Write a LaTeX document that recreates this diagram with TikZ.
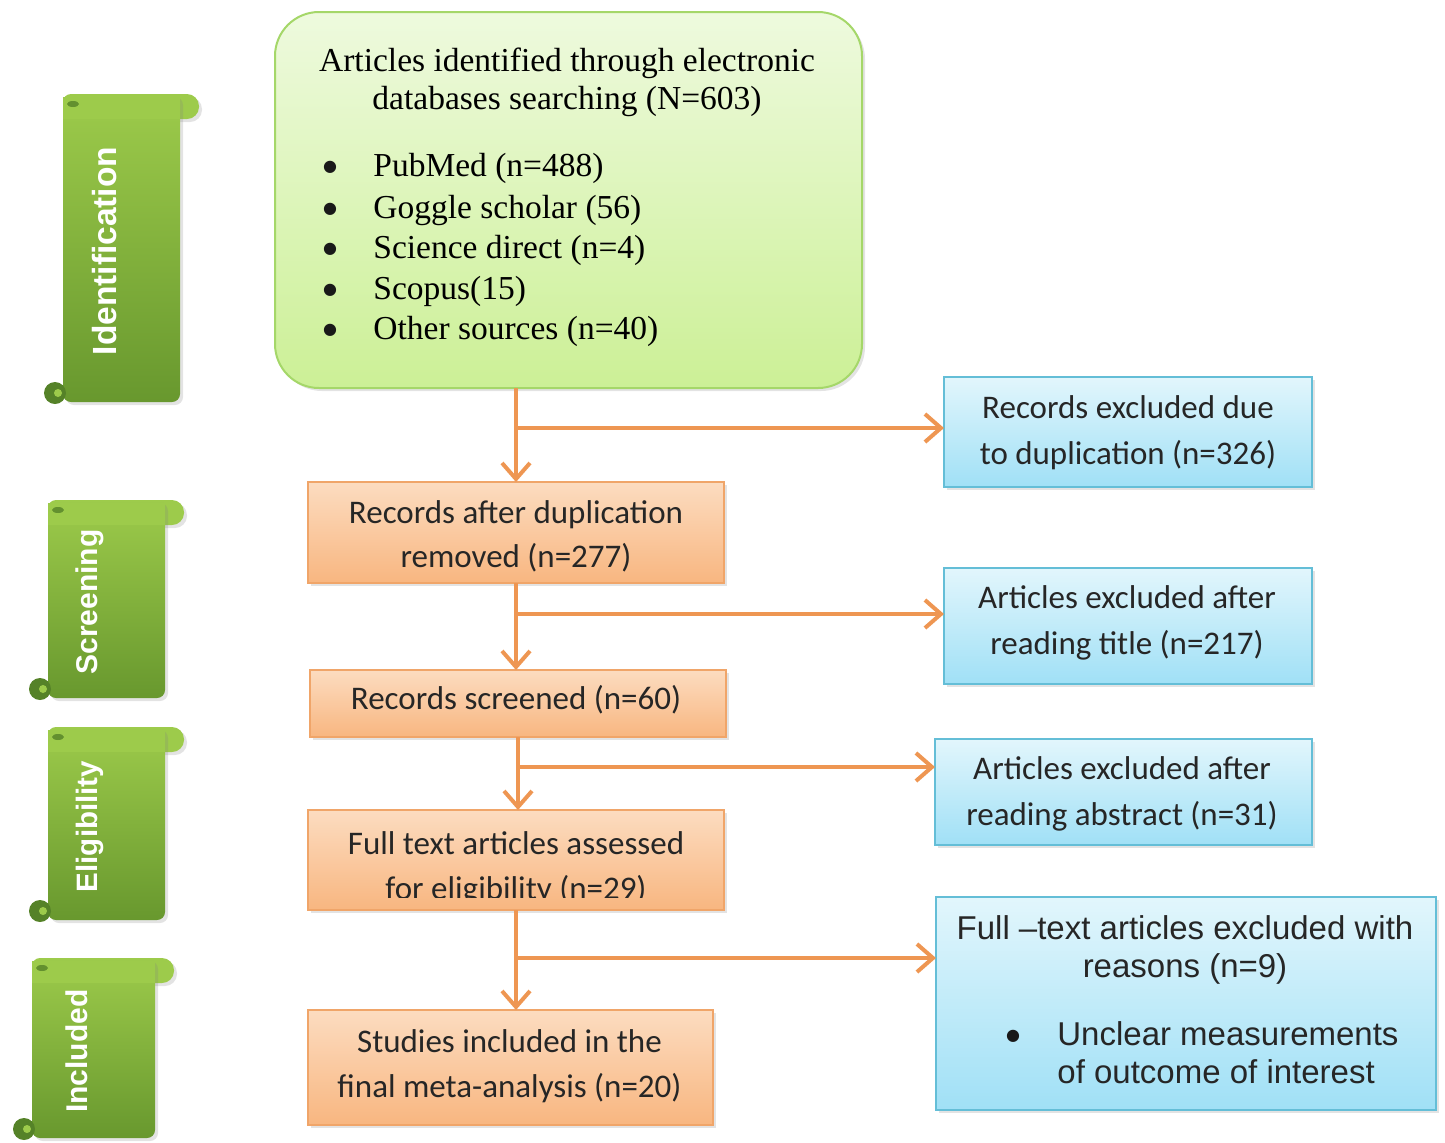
\documentclass[tikz,border=0pt]{standalone}
\usepackage{fontspec}
\setmainfont{Liberation Serif}
\newfontfamily\pCalibri{Carlito}
\newfontfamily\pArial{Liberation Sans}
\newfontfamily\pSymbol{DejaVu Sans}
\usetikzlibrary{arrows.meta,shadows}

\definecolor{pFlow}{RGB}{238,150,82}
\definecolor{pIdTop}{RGB}{238,250,222}
\definecolor{pIdBottom}{RGB}{204,240,150}
\definecolor{pIdEdge}{RGB}{165,215,105}
\definecolor{pStepTop}{RGB}{252,220,192}
\definecolor{pStepBottom}{RGB}{248,182,128}
\definecolor{pStepEdge}{RGB}{240,165,105}
\definecolor{pOutTop}{RGB}{226,246,252}
\definecolor{pOutBottom}{RGB}{160,224,246}
\definecolor{pOutEdge}{RGB}{100,190,215}
\definecolor{pScrollTop}{RGB}{157,203,75}
\definecolor{pScrollBottom}{RGB}{104,152,46}
\definecolor{pScrollDark}{RGB}{85,130,40}

\tikzset{
  pShadow/.style={drop shadow={opacity=0.22,shadow xshift=1.5pt,shadow yshift=-1.5pt}},
  idBox/.style={draw=pIdEdge, line width=1pt, top color=pIdTop, bottom color=pIdBottom, rounded corners=22pt, inner sep=0pt, outer sep=0pt, pShadow},
  stepBox/.style={draw=pStepEdge, line width=0.75pt, top color=pStepTop, bottom color=pStepBottom, inner sep=0pt, outer sep=0pt, pShadow},
  outBox/.style={draw=pOutEdge, line width=0.75pt, top color=pOutTop, bottom color=pOutBottom, inner sep=0pt, outer sep=0pt, pShadow},
  flow/.style={draw=pFlow, line width=2pt, -{Straight Barb[length=8pt,width=14pt]}},
  serifLine/.style={anchor=base, inner sep=0pt, font=\fontsize{16.75pt}{20pt}\selectfont},
  stepLine/.style={anchor=base, inner sep=0pt, text=black!85, font=\pCalibri\fontsize{16.5pt}{20pt}\selectfont},
  arialLine/.style={anchor=base, inner sep=0pt, text=black!85, font=\pArial\fontsize{16.5pt}{20pt}\selectfont},
  listDot/.style={anchor=base, inner sep=0pt, text=black!90, font=\pSymbol\fontsize{8pt}{8pt}\selectfont},
  stageText/.style={text=white, inner sep=0pt, rotate=90}
}

\newcommand{\pScroll}[7]{%
  \fill[pScrollTop, rounded corners=6pt, pShadow] (#1,#2) rectangle (#3+19,#2+25);
  \shade[top color=pScrollTop, bottom color=pScrollBottom, rounded corners=4pt, pShadow] (#1,#2) rectangle (#3,#4);
  \fill[pScrollTop] (#1,#2+3) rectangle (#3,#2+25);
  \fill[pScrollDark, opacity=0.8] (#1+10,#2+10) ellipse[x radius=3pt, y radius=1.5pt];
  \fill[pScrollDark] (#1-8,#4-9) circle[radius=5.5pt];
  \fill[pScrollTop] (#1-5,#4-9) circle[radius=2pt];
  \node[stageText, font=\pArial\bfseries\fontsize{#6}{#6}\selectfont] (#5) at ({(#1+#3)/2-17},{(#2+#4)/2+3}) {#7};
}

\begin{document}
\begin{tikzpicture}[x=0.5pt,y=-0.5pt]
\useasboundingbox (0,0) rectangle (1445,1142);
\pScroll{63}{94}{180}{402}{stageId}{16.75pt}{Identification}
\pScroll{48}{500}{165}{698}{stageScr}{15pt}{Screening}
\pScroll{48}{727}{165}{920}{stageElig}{14.75pt}{Eligibility}
\pScroll{32}{958}{155}{1138}{stageIncl}{15pt}{Included}
\node[idBox, minimum width=293.5pt, minimum height=188pt] (idBox) at (568.5,200) {};
\node[stepBox, minimum width=208pt, minimum height=50.5pt] (o1) at (516,532.5) {};
\node[stepBox, minimum width=208pt, minimum height=33.5pt] (o2) at (518,703.5) {};
\node[stepBox, minimum width=208pt, minimum height=50pt] (o3) at (516,860) {};
\node[stepBox, minimum width=202.5pt, minimum height=57.5pt] (o4) at (510.5,1067.5) {};
\node[outBox, minimum width=184pt, minimum height=55pt] (b1) at (1128,432) {};
\node[outBox, minimum width=184pt, minimum height=58pt] (b2) at (1128,626) {};
\node[outBox, minimum width=188.5pt, minimum height=53pt] (b3) at (1123.5,792) {};
\node[outBox, minimum width=250pt, minimum height=106.5pt] (b4) at (1186,1003.5) {};
\node[serifLine] (idHeadA) at (567,71) {Articles identified through electronic};
\node[serifLine] (idHeadB) at (567,109) {databases searching (N=603)};
\node[listDot] (idDotA) at (330,171) {●};
\node[serifLine, anchor=base west] (idItemA) at (373,176) {PubMed (n=488)};
\node[listDot] (idDotB) at (330,213) {●};
\node[serifLine, anchor=base west] (idItemB) at (373,218) {Goggle scholar (56)};
\node[listDot] (idDotC) at (330,253) {●};
\node[serifLine, anchor=base west] (idItemC) at (373,258) {Science direct (n=4)};
\node[listDot] (idDotD) at (330,294) {●};
\node[serifLine, anchor=base west] (idItemD) at (373,299) {Scopus(15)};
\node[listDot] (idDotE) at (330,334) {●};
\node[serifLine, anchor=base west] (idItemE) at (373,339) {Other sources (n=40)};
\node[stepLine] (dupTextA) at (516,523) {Records after duplication};
\node[stepLine] (dupTextB) at (516,567) {removed (n=277)};
\node[stepLine] (scrText) at (516,709) {Records screened (n=60)};
\begin{scope}
\clip (o3.north west) rectangle ([yshift=6.5pt]o3.south east);
\node[stepLine] (eligTextA) at (516,854) {Full text articles assessed};
\node[stepLine] (eligTextB) at (516,899) {for eligibility (n=29)};
\end{scope}
\node[stepLine] (inclTextA) at (509.5,1052) {Studies included in the};
\node[stepLine] (inclTextB) at (509.5,1097) {final meta-analysis (n=20)};
\node[stepLine] (dupOutA) at (1128,418) {Records excluded due};
\node[stepLine] (dupOutB) at (1128,464) {to duplication (n=326)};
\node[stepLine] (titleOutA) at (1127,608) {Articles excluded after};
\node[stepLine] (titleOutB) at (1127,654) {reading title (n=217)};
\node[stepLine] (absOutA) at (1122,779) {Articles excluded after};
\node[stepLine] (absOutB) at (1122,825) {reading abstract (n=31)};
\node[arialLine] (fullOutA) at (1185,939) {Full –text articles excluded with};
\node[arialLine] (fullOutB) at (1185,977) {reasons (n=9)};
\node[listDot] (fullDot) at (1013,1040) {●};
\node[arialLine, anchor=base west] (fullItemA) at (1057,1045) {Unclear measurements};
\node[arialLine, anchor=base west] (fullItemB) at (1057,1083) {of outcome of interest};
\coordinate (jA) at (516,428);
\coordinate (jB) at (516,614);
\coordinate (jC) at (518,767);
\coordinate (jD) at (516,958);
\draw[flow] (o1.north |- idBox.south) -- (o1.north);
\draw[flow] (o1.south) -- (o1.south |- o2.north);
\draw[flow] (o2.south) -- (o2.south |- o3.north);
\draw[flow] (o3.south) -- (o3.south |- o4.north);
\draw[flow] (jA) -- (jA -| b1.west);
\draw[flow] (jB) -- (jB -| b2.west);
\draw[flow] (jC) -- (jC -| b3.west);
\draw[flow] (jD) -- (jD -| b4.west);
\end{tikzpicture}
\end{document}
